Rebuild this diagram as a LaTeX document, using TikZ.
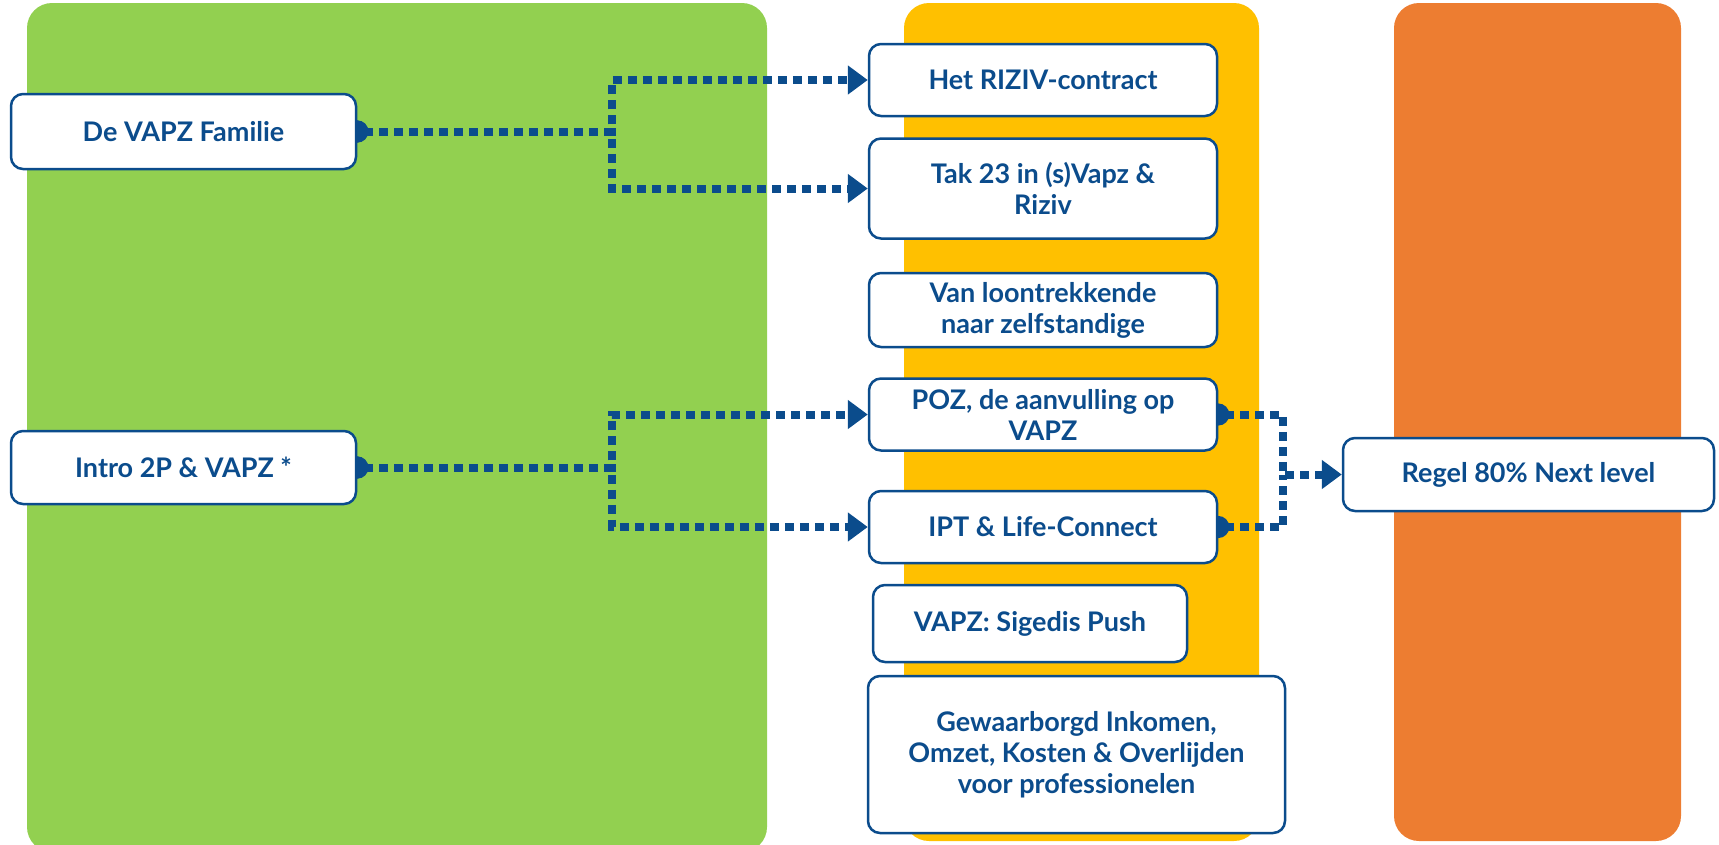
\documentclass[tikz,border=0pt]{standalone}
\usepackage{fontspec}
\setmainfont{Lato}
\usetikzlibrary{positioning,arrows.meta}
\definecolor{vapzblue}{HTML}{0B4C8C}
\definecolor{vapzgreen}{HTML}{92D050}
\definecolor{vapzyellow}{HTML}{FFC000}
\definecolor{vapzorange}{HTML}{ED7D31}
\pgfdeclarelayer{back}
\pgfdeclarelayer{mid}
\pgfsetlayers{back,mid,main}
\tikzset{
  topic/.style={
    rectangle,
    rounded corners=12pt,
    draw=vapzblue, line width=2.5pt,
    fill=white,
    text=vapzblue,
    font=\bfseries\fontsize{27}{31}\selectfont,
    align=center,
    minimum width=348pt,
    minimum height=72pt,
    inner sep=0pt},
  panel/.style={rounded corners=25pt},
  dotline/.style={
    draw=vapzblue, line width=8pt,
    dash pattern=on 9pt off 6pt,
    {Circle[length=22pt]}-{Triangle[length=20pt,width=28pt]},
    shorten <=-11pt},
  dotjoin/.style={dotline, {Circle[length=22pt]}-},
}

\begin{document}
\begin{tikzpicture}[x=1pt, y=-1pt]
    \useasboundingbox (0,0) rectangle (1719,844);

    % kolommen
    \begin{pgfonlayer}{back}
    \fill[vapzgreen, panel] (27,3) rectangle (767,852);
    \fill[vapzyellow, panel] (904,3) rectangle (1259,841);
    \fill[vapzorange, panel] (1394,3) rectangle (1681,841);
    \end{pgfonlayer}

    \node[topic, minimum width=345pt, minimum height=75pt] (familie) at (183.5,131.5) {De VAPZ Familie};
    \node[topic, minimum width=345pt, minimum height=73pt] (intro) at (183.5,467.5) {Intro 2P \& VAPZ *};

    \node[topic] (riziv) at (1043,80) {Het RIZIV-contract};
    \node[topic, minimum height=100pt, below=20pt of riziv] (tak) {Tak 23 in (s)Vapz \&\\Riziv};
    \node[topic, minimum height=74pt, below=32pt of tak] (loon) {Van loontrekkende\\naar zelfstandige};
    \node[topic, below=29pt of loon] (poz) {POZ, de aanvulling op\\VAPZ};
    \node[topic, below=38pt of poz] (ipt) {IPT \& Life-Connect};
    \node[topic, minimum width=314pt, minimum height=77pt] (sigedis) at (1030,623.5) {VAPZ: Sigedis Push};
    \node[topic, minimum width=417pt, minimum height=157pt] (inkomen) at (1076.5,754.5) {Gewaarborgd Inkomen,\\Omzet, Kosten \& Overlijden\\voor professionelen};

    \node[topic, minimum width=371pt, minimum height=73pt] (regel) at (1528.5,474.5) {Regel 80\% Next level};

    \coordinate (splitA) at (612,131.5);
    \coordinate (splitB) at (612,467.5);
    \coordinate (joinC) at (1283,474.5);

    \begin{pgfonlayer}{mid}
    \draw[dotline] (familie.east) -- (splitA) |- (riziv.west);
    \draw[dotline] (familie.east) -- (splitA) |- (tak.west);
    \draw[dotline] (intro.east) -- (splitB) |- (poz.west);
    \draw[dotline] (intro.east) -- (splitB) |- (ipt.west);
    \draw[dotline] (poz.east) -| (joinC) -- (regel.west);
    \draw[dotjoin] (ipt.east) -| (joinC);
    \end{pgfonlayer}
\end{tikzpicture}
\end{document}
